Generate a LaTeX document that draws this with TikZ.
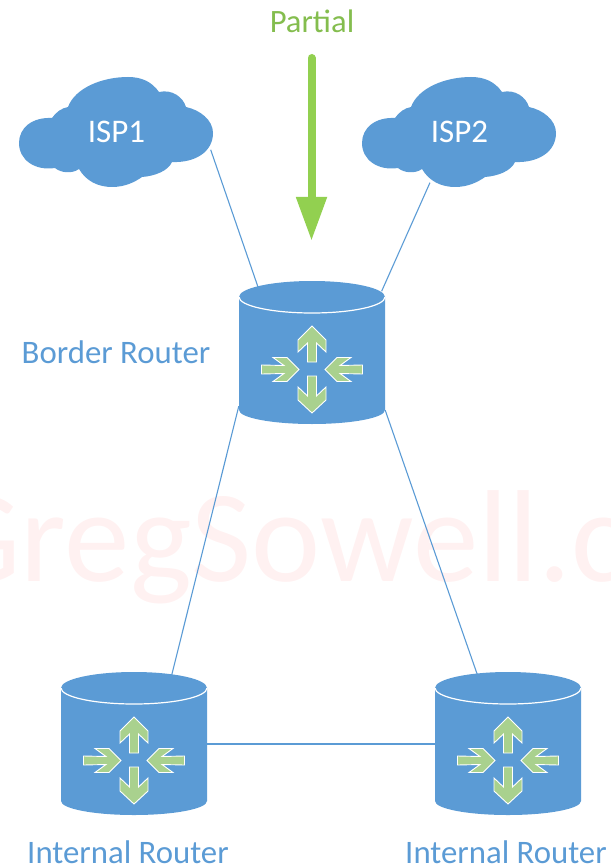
\documentclass[tikz,border=0pt]{standalone}
\usepackage{fontspec}
\setmainfont{Carlito}
\usetikzlibrary{arrows.meta,backgrounds}
\definecolor{routerblue}{HTML}{5B9BD5}
\definecolor{routergreen}{HTML}{A9D18E}
\definecolor{feedgreen}{HTML}{92D050}
\definecolor{feedtext}{HTML}{84BD4E}
\definecolor{markpink}{HTML}{FFF1F1}
\tikzset{
	link/.style={routerblue, line width=1.1pt},
	routerbox/.style={minimum width=146pt, minimum height=134pt, inner sep=0pt},
	cloudbox/.style={minimum width=188pt, minimum height=102pt, inner sep=0pt, text=white, font=\fontsize{33}{33}\selectfont},
	bluetext/.style={routerblue, inner sep=0pt, font=\fontsize{32.8}{33}\selectfont},
	hop/.style={fill=routergreen, draw=white, line width=0.9pt, line join=miter},
}
% one router: (name)(centre)
\def\router(#1)(#2){
	\node[routerbox] (#1) at (#2) {};
	\begin{scope}[shift={(#2)}]
		\fill[routerblue] (-73, -56) arc (-180:0:73 and 16) -- (73, 57) arc (0:180:73 and 14) -- cycle;
		\draw[white, line width=1.2pt] (-73, -56) arc (180:0:73 and 16);
		\draw[hop] (0, -27) -- (14, -13) -- (14, -1) -- (4.5, -10) -- (4.5, 9) -- (-4.5, 9) -- (-4.5, -10) -- (-14, -1) -- (-14, -13) -- cycle;
		\draw[hop] (0, 60) -- (14, 47) -- (14, 34) -- (4.5, 43) -- (4.5, 23) -- (-4.5, 23) -- (-4.5, 43) -- (-14, 34) -- (-14, 47) -- cycle;
		\draw[hop] (-13, 16.5) -- (-25, 4.5) -- (-39, 4.5) -- (-28, 12.5) -- (-50.5, 12) -- (-50.5, 21) -- (-28, 20.5) -- (-39, 28.5) -- (-25, 28.5) -- cycle;
		\draw[hop] (13, 16.5) -- (25, 4.5) -- (39, 4.5) -- (28, 12.5) -- (50.5, 12) -- (50.5, 21) -- (28, 20.5) -- (39, 28.5) -- (25, 28.5) -- cycle;
	\end{scope}
}
% one cloud: (name)(x shift)(text)
\def\ispcloud(#1)(#2)(#3){
	\begin{scope}[xshift=#2pt]
		\fill[routerblue] (52, 118) .. controls (32, 117) and (19, 128) .. (19, 143)
			.. controls (19, 160) and (35, 171) .. (55, 168)
			.. controls (61, 173) and (72, 174) .. (79, 169)
			.. controls (86, 181) and (98, 187) .. (112, 187)
			.. controls (125, 187) and (135, 182) .. (142, 177)
			.. controls (155, 176) and (168, 171) .. (172, 162)
			.. controls (195, 163) and (213, 152) .. (213, 133)
			.. controls (213, 120) and (200, 110) .. (186, 107)
			.. controls (183, 97) and (172, 89) .. (159, 92)
			.. controls (152, 82) and (142, 77) .. (128, 77)
			.. controls (102, 77) and (75, 88) .. (68, 107)
			.. controls (62, 108) and (56, 112) .. (52, 118) -- cycle;
		\node[cloudbox] (#1) at (116.5, 131.5) {#3};
	\end{scope}
}

\begin{document}
\begin{tikzpicture}[x=1pt, y=-1pt]
	\useasboundingbox (0, 0) rectangle (610, 866);
	
	%%%%% routers and clouds %%%%%
	\router(border)(312, 353)
	\router(internalleft)(134, 744)
	\router(internalright)(508, 744)
	\ispcloud(ispone)(0)(ISP1)
	\ispcloud(isptwo)(343)(ISP2)
	
	%%%%% labels %%%%%
	\node[bluetext] (borderlabel) at (116, 352) {Border Router};
	\node[bluetext, anchor=base] (leftlabel) at (128, 863) {Internal Router};
	\node[bluetext, anchor=base] (rightlabel) at (506, 863) {Internal Router};
	\node[feedtext, font=\fontsize{32.6}{33}\selectfont] (partial) at (312, 21) {Partial};
	
	%%%%% feed arrow %%%%%
	\coordinate (feedtop) at (311.5, 58);
	\coordinate (feedtip) at (311.5, 241);
	\draw[feedgreen, line width=8pt, line cap=round, -{Triangle[width=29pt, length=44pt]}] (feedtop) -- (feedtip);
	
	\begin{scope}[on background layer]
		\clip (0, 0) rectangle (610, 866);
		\node[anchor=base west, inner sep=0pt, markpink, font=\fontsize{131}{131}\selectfont] (mark) at (-62, 581) {GregSowell.c};
		
		\draw[link, shorten >=-6pt] (ispone.-11.7) -- (border.129.4);
		\draw[link, shorten >=-6pt] (isptwo.240) -- (border.43.7);
		\draw[link] (border.216.5) -- (internalleft.61.1);
		\draw[link] (border.-38.9) -- (internalright.114.8);
		\draw[link] (internalleft.east) -- (internalright.west);
	\end{scope}
\end{tikzpicture}
\end{document}
